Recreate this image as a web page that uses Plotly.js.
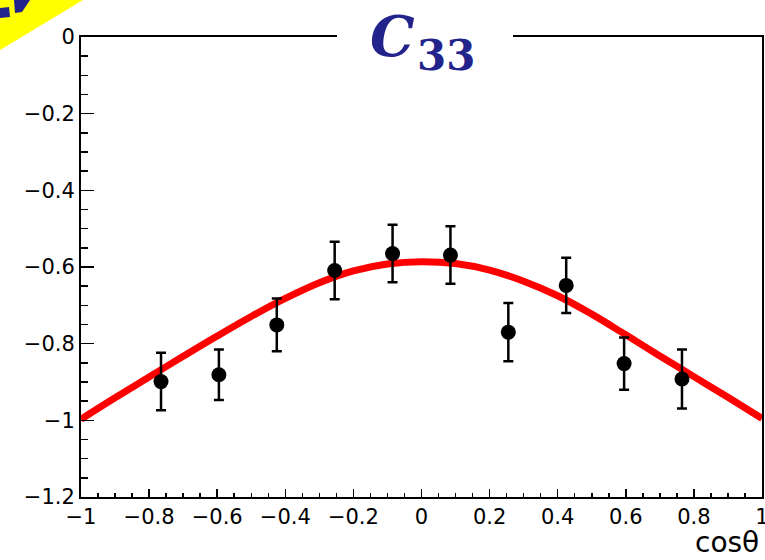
<!DOCTYPE html>
<html>
<head>
<meta charset="utf-8">
<script src="https://cdn.plot.ly/plotly-3.0.1.min.js"></script>
<style>html,body{margin:0;padding:0;background:#fff;}#chart{width:765px;height:560px;}</style>
</head>
<body>
<div id="chart"></div>
<script>
// Data points (cos theta bins), measured C33 values and errors
var cosTheta = [-0.765, -0.595, -0.425, -0.255, -0.085, 0.085, 0.255, 0.425, 0.595, 0.765];
var c33 = [-0.899, -0.881, -0.751, -0.609, -0.565, -0.569, -0.770, -0.648, -0.852, -0.892];
var c33Err = [0.075, 0.066, 0.069, 0.075, 0.075, 0.075, 0.076, 0.072, 0.068, 0.077];

// Fit curve
var fitX = [-1, -0.9, -0.8, -0.7, -0.6, -0.5, -0.4, -0.3, -0.2, -0.1, 0, 0.1, 0.2, 0.3, 0.4, 0.5, 0.6, 0.7, 0.8, 0.9, 1];
var fitY = [-0.997, -0.941, -0.887, -0.833, -0.780, -0.729, -0.682, -0.641, -0.610, -0.592, -0.586, -0.591, -0.608, -0.637, -0.675, -0.723, -0.777, -0.832, -0.886, -0.940, -0.995];

// Tick labels
var xTickVals = [-1, -0.8, -0.6, -0.4, -0.2, 0, 0.2, 0.4, 0.6, 0.8, 1];
var xTickText = ['\u22121', '\u22120.8', '\u22120.6', '\u22120.4', '\u22120.2', '0', '0.2', '0.4', '0.6', '0.8', '1'];
var yTickVals = [-1.2, -1, -0.8, -0.6, -0.4, -0.2, 0];
var yTickText = ['\u22121.2', '\u22121', '\u22120.8', '\u22120.6', '\u22120.4', '\u22120.2', '0'];

var titleMain = "C";
var titleSub = "33";
var xTitle = "cosθ";

var traces = [
  {
    x: fitX, y: fitY, type: 'scatter', mode: 'lines',
    line: {color: '#ff0000', width: 7, shape: 'spline', smoothing: 1.1},
    hoverinfo: 'skip', showlegend: false
  },
  {
    x: cosTheta, y: c33, type: 'scatter', mode: 'markers',
    marker: {color: '#000000', size: 15},
    error_y: {type: 'data', array: c33Err, visible: true, color: '#000000', thickness: 2.5, width: 5},
    showlegend: false
  }
];

var axisFont = {family: 'DejaVu Sans, Arial, sans-serif', size: 21, color: '#000000'};
var navy = '#23238c';

function px(X) { return (X - 81) / 681; }
function py(Y) { return (497 - Y) / 460; }

var layout = {
  width: 765, height: 560,
  margin: {l: 81, r: 3, t: 37, b: 63, pad: 0},
  paper_bgcolor: '#ffffff', plot_bgcolor: '#ffffff',
  showlegend: false,
  xaxis: {
    range: [-1, 1], tickmode: 'array', tickvals: xTickVals, ticktext: xTickText,
    ticks: 'inside', ticklen: 8, tickwidth: 1.5, tickcolor: '#000',
    showline: true, linewidth: 2, linecolor: '#000', mirror: true,
    showgrid: false, zeroline: false, ticklabeloverflow: 'allow',
    tickfont: axisFont,
    minor: {tickmode: 'linear', tick0: -1, dtick: 0.05, ticks: 'inside', ticklen: 4, tickwidth: 1.5, tickcolor: '#000', showgrid: false}
  },
  yaxis: {
    range: [-1.2, 0], tickmode: 'array', tickvals: yTickVals, ticktext: yTickText,
    ticks: 'inside', ticklen: 13, tickwidth: 1.5, tickcolor: '#000',
    showline: true, linewidth: 2, linecolor: '#000', mirror: true,
    showgrid: false, zeroline: false, ticklabeloverflow: 'allow',
    tickfont: axisFont,
    minor: {tickmode: 'linear', tick0: -1.2, dtick: 0.05, ticks: 'inside', ticklen: 7, tickwidth: 1.5, tickcolor: '#000', showgrid: false}
  },
  shapes: [
    {type: 'rect', xref: 'paper', yref: 'paper', x0: px(337), x1: px(513), y0: py(44), y1: py(30),
     fillcolor: '#ffffff', line: {width: 0}, layer: 'above'},
    {type: 'path', xref: 'paper', yref: 'paper',
     path: 'M ' + px(0) + ',' + py(0) + ' L ' + px(83) + ',' + py(0) + ' L ' + px(0) + ',' + py(50) + ' Z',
     fillcolor: '#ffff00', line: {width: 0}, layer: 'above'},
    {type: 'path', xref: 'paper', yref: 'paper',
     path: 'M ' + px(14) + ',' + py(0) + ' L ' + px(30) + ',' + py(0) + ' L ' + px(22) + ',' + py(12) + ' L ' + px(15) + ',' + py(13) + ' Z',
     fillcolor: navy, line: {width: 0}, layer: 'above'},
    {type: 'path', xref: 'paper', yref: 'paper',
     path: 'M ' + px(0) + ',' + py(8) + ' L ' + px(9) + ',' + py(7) + ' L ' + px(10) + ',' + py(17) + ' L ' + px(0) + ',' + py(18) + ' Z',
     fillcolor: navy, line: {width: 0}, layer: 'above'}
  ],
  annotations: [
    {text: '<b><i>' + titleMain + '</i></b>', xref: 'paper', yref: 'paper', x: px(392), y: py(36),
     xanchor: 'center', yanchor: 'middle', showarrow: false,
     font: {family: 'DejaVu Serif, Liberation Serif, serif', size: 56, color: navy}},
    {text: '<b>' + titleSub + '</b>', xref: 'paper', yref: 'paper', x: px(446), y: py(55),
     xanchor: 'center', yanchor: 'middle', showarrow: false,
     font: {family: 'DejaVu Serif, Liberation Serif, serif', size: 42, color: navy}},
    {text: xTitle, xref: 'paper', yref: 'paper', x: px(761), y: py(542),
     xanchor: 'right', yanchor: 'middle', showarrow: false,
     font: {family: 'DejaVu Sans, Arial, sans-serif', size: 28, color: '#000'}}
  ]
};

Plotly.newPlot('chart', traces, layout, {displayModeBar: false, staticPlot: true});
</script>
</body>
</html>
